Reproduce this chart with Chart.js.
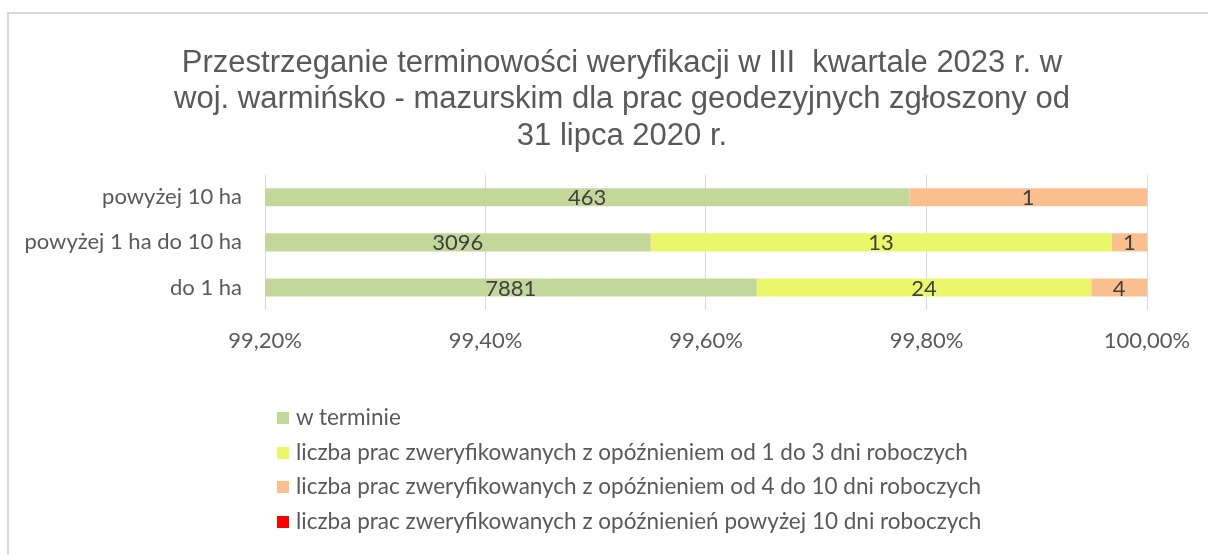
<!DOCTYPE html>
<html>
<head>
<meta charset="utf-8">
<script src="https://cdn.jsdelivr.net/npm/chart.js@4"></script>
<style>
  html, body { margin: 0; padding: 0; background: #fff; overflow: hidden; }
  #frame { position: absolute; left: 7px; top: 12px; width: 1240px; height: 600px; border: 2px solid #d9d9d9; }
  #wrap { position: absolute; left: 0; top: 0; width: 1240px; height: 555px; }
  #legend { position: absolute; left: 277px; top: 403px; font-family: Lato, sans-serif; font-size: 22.5px; color: #595959; }
  #legend div { height: 34.5px; line-height: 28px; white-space: nowrap; }
  #legend span { display: inline-block; width: 12px; height: 12px; margin-right: 7px; vertical-align: 1px; }
</style>
</head>
<body>
<div id="frame"></div>
<div id="wrap"><canvas id="chart" width="1240" height="555"></canvas></div>
<div id="legend"></div>
<script>
// kategorie (od góry)
const categories = ['powyżej 10 ha', 'powyżej 1 ha do 10 ha', 'do 1 ha'];

// serie - liczby prac
const seriesNames = [
  'w terminie',
  'liczba prac zweryfikowanych z opóźnieniem od 1 do 3 dni roboczych',
  'liczba prac zweryfikowanych z opóźnieniem od 4 do 10 dni roboczych',
  'liczba prac zweryfikowanych z opóźnienień powyżej 10 dni roboczych',
];
const inTime = [463, 3096, 7881];
const late1to3 = [0, 13, 24];
const late4to10 = [1, 1, 4];
const lateOver10 = [0, 0, 0];

const seriesColors = ['#C4D79B', '#EBF76B', '#FABF8F', '#FF0000'];

// oś X
const xMin = 99.2;
const xMax = 100;
const xStep = 0.2;

const counts = [inTime, late1to3, late4to10, lateOver10];
const totals = categories.map((c, i) => counts.reduce((s, arr) => s + arr[i], 0));

const datasets = counts.map((arr, k) => ({
  label: seriesNames[k],
  data: arr.map((v, i) => (v / totals[i]) * 100),
  counts: arr,
  backgroundColor: seriesColors[k],
  borderWidth: 0,
  barPercentage: 0.4,
  categoryPercentage: 1,
  clip: 0,
}));

// etykiety z liczbami na środku widocznej części słupka
const countLabels = {
  id: 'countLabels',
  afterDatasetsDraw(chart) {
    const { ctx, chartArea } = chart;
    ctx.save();
    ctx.font = '22px Lato, sans-serif';
    ctx.fillStyle = '#404040';
    ctx.textAlign = 'center';
    ctx.textBaseline = 'middle';
    chart.data.datasets.forEach((ds, k) => {
      const meta = chart.getDatasetMeta(k);
      meta.data.forEach((bar, i) => {
        const v = ds.counts[i];
        if (!v) return;
        const l = Math.max(Math.min(bar.x, bar.base), chartArea.left);
        const r = Math.min(Math.max(bar.x, bar.base), chartArea.right);
        ctx.fillText(String(v), (l + r) / 2, bar.y + 1);
      });
    });
    ctx.restore();
  },
};

new Chart(document.querySelector('#chart'), {
  type: 'bar',
  data: { labels: categories, datasets },
  plugins: [countLabels],
  options: {
    indexAxis: 'y',
    responsive: false,
    animation: false,
    layout: { padding: { left: 20, right: 16, top: 0, bottom: 195 } },
    plugins: {
      legend: { display: false },
      tooltip: { enabled: false },
      title: {
        display: true,
        text: [
          'Przestrzeganie terminowości weryfikacji w III  kwartale 2023 r. w',
          'woj. warmińsko - mazurskim dla prac geodezyjnych zgłoszony od',
          '31 lipca 2020 r.',
        ],
        color: '#595959',
        font: { family: '"Liberation Sans", Arial, sans-serif', size: 31, weight: 'normal', lineHeight: 1.18 },
        padding: { top: 45, bottom: 20 },
      },
    },
    scales: {
      x: {
        stacked: true,
        min: xMin,
        max: xMax,
        ticks: {
          stepSize: xStep,
          color: '#595959',
          font: { family: 'Lato, sans-serif', size: 22 },
          padding: 18,
          callback: (v) => Number(v).toFixed(2).replace('.', ',') + '%',
        },
        grid: { color: '#d9d9d9', lineWidth: 1, drawTicks: false },
        border: { display: false },
        afterFit: (s) => { s.height = 50; },
      },
      y: {
        stacked: true,
        ticks: {
          color: '#595959',
          font: { family: 'Lato, sans-serif', size: 22 },
          padding: 23,
        },
        grid: { display: false, drawTicks: false },
        border: { display: false },
        afterFit: (s) => { s.width = 245; },
      },
      // pusta oś po prawej - tylko odstęp
      yRight: {
        type: 'category',
        position: 'right',
        ticks: { display: false },
        grid: { display: false, drawTicks: false },
        border: { display: false },
        afterFit: (s) => { s.width = 77; },
      },
    },
  },
});

// legenda
const legend = document.querySelector('#legend');
seriesNames.forEach((name, k) => {
  const row = document.createElement('div');
  const box = document.createElement('span');
  box.style.background = seriesColors[k];
  row.appendChild(box);
  row.appendChild(document.createTextNode(name));
  legend.appendChild(row);
});
</script>
</body>
</html>
